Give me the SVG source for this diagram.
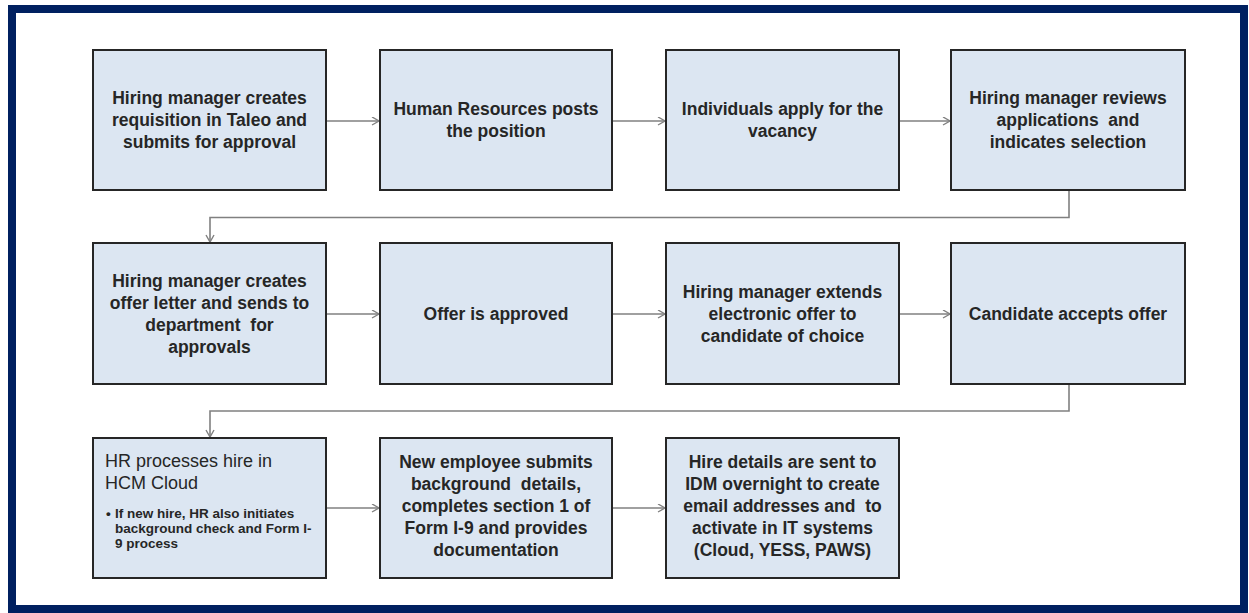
<svg xmlns="http://www.w3.org/2000/svg" width="1249" height="613" viewBox="0 0 1249 613">
<style>
.box{fill:#dce6f2;stroke:#262626;stroke-width:2}
.t{font-family:"Liberation Sans",Arial,sans-serif;font-weight:bold;font-size:17.5px;fill:#262626;text-anchor:middle;white-space:pre}
.h{font-family:"Liberation Sans",Arial,sans-serif;font-size:18px;fill:#262626}
.b{font-family:"Liberation Sans",Arial,sans-serif;font-weight:bold;font-size:13.5px;fill:#262626}
.c{fill:none;stroke:#808080;stroke-width:1.6}
</style>
<defs>
<marker id="arr" markerUnits="userSpaceOnUse" markerWidth="10" markerHeight="10" refX="8" refY="4.5" orient="auto">
<path d="M1,0.5 L8,4.5 L1,8.5" fill="none" stroke="#808080" stroke-width="1.4"/>
</marker>
</defs>
<rect x="0" y="0" width="1249" height="613" fill="#ffffff"/>
<rect x="12" y="9" width="1232" height="600" fill="none" stroke="#002060" stroke-width="8"/>

<g id="connectors">
<path class="c" d="M326,121 H379" marker-end="url(#arr)"/>
<path class="c" d="M612,121 H665" marker-end="url(#arr)"/>
<path class="c" d="M899,121 H950" marker-end="url(#arr)"/>
<path class="c" d="M1069,190 V217.5 H210 V242" marker-end="url(#arr)"/>
<path class="c" d="M326,314 H379" marker-end="url(#arr)"/>
<path class="c" d="M612,314 H665" marker-end="url(#arr)"/>
<path class="c" d="M899,314 H950" marker-end="url(#arr)"/>
<path class="c" d="M1069,384 V411 H210 V437" marker-end="url(#arr)"/>
<path class="c" d="M326,508 H379" marker-end="url(#arr)"/>
<path class="c" d="M612,508 H665" marker-end="url(#arr)"/>
</g>

<g id="n1"><rect class="box" x="93" y="50" width="233" height="140"/>
<text class="t" x="209.5" y="104">Hiring manager creates</text>
<text class="t" x="209.5" y="126">requisition in Taleo and</text>
<text class="t" x="209.5" y="148">submits for approval</text></g>

<g id="n2"><rect class="box" x="380" y="50" width="232" height="140"/>
<text class="t" x="496" y="115">Human Resources posts</text>
<text class="t" x="496" y="137">the position</text></g>

<g id="n3"><rect class="box" x="666" y="50" width="233" height="140"/>
<text class="t" x="782.5" y="115">Individuals apply for the</text>
<text class="t" x="782.5" y="137">vacancy</text></g>

<g id="n4"><rect class="box" x="951" y="50" width="234" height="140"/>
<text class="t" x="1068" y="104">Hiring manager reviews</text>
<text class="t" x="1068" y="126" xml:space="preserve">applications  and</text>
<text class="t" x="1068" y="148">indicates selection</text></g>

<g id="n5"><rect class="box" x="93" y="243" width="233" height="141"/>
<text class="t" x="209.5" y="287">Hiring manager creates</text>
<text class="t" x="209.5" y="309">offer letter and sends to</text>
<text class="t" x="209.5" y="331" xml:space="preserve">department  for</text>
<text class="t" x="209.5" y="353">approvals</text></g>

<g id="n6"><rect class="box" x="380" y="243" width="232" height="141"/>
<text class="t" x="496" y="320">Offer is approved</text></g>

<g id="n7"><rect class="box" x="666" y="243" width="233" height="141"/>
<text class="t" x="782.5" y="298">Hiring manager extends</text>
<text class="t" x="782.5" y="320">electronic offer to</text>
<text class="t" x="782.5" y="342">candidate of choice</text></g>

<g id="n8"><rect class="box" x="951" y="243" width="234" height="141"/>
<text class="t" x="1068" y="320">Candidate accepts offer</text></g>

<g id="n9"><rect class="box" x="93" y="438" width="233" height="140"/>
<text class="h" x="105" y="467">HR processes hire in</text>
<text class="h" x="105" y="489">HCM Cloud</text>
<text class="b" x="106" y="518">•</text>
<text class="b" x="115" y="518">If new hire, HR also initiates</text>
<text class="b" x="115" y="533">background check and Form I-</text>
<text class="b" x="115" y="548">9 process</text></g>

<g id="n10"><rect class="box" x="380" y="438" width="232" height="140"/>
<text class="t" x="496" y="468">New employee submits</text>
<text class="t" x="496" y="490" xml:space="preserve">background  details,</text>
<text class="t" x="496" y="512">completes section 1 of</text>
<text class="t" x="496" y="534">Form I-9 and provides</text>
<text class="t" x="496" y="556">documentation</text></g>

<g id="n11"><rect class="box" x="666" y="438" width="233" height="140"/>
<text class="t" x="782.5" y="468">Hire details are sent to</text>
<text class="t" x="782.5" y="490">IDM overnight to create</text>
<text class="t" x="782.5" y="512" xml:space="preserve">email addresses and  to</text>
<text class="t" x="782.5" y="534">activate in IT systems</text>
<text class="t" x="782.5" y="556">(Cloud, YESS, PAWS)</text></g>
</svg>
